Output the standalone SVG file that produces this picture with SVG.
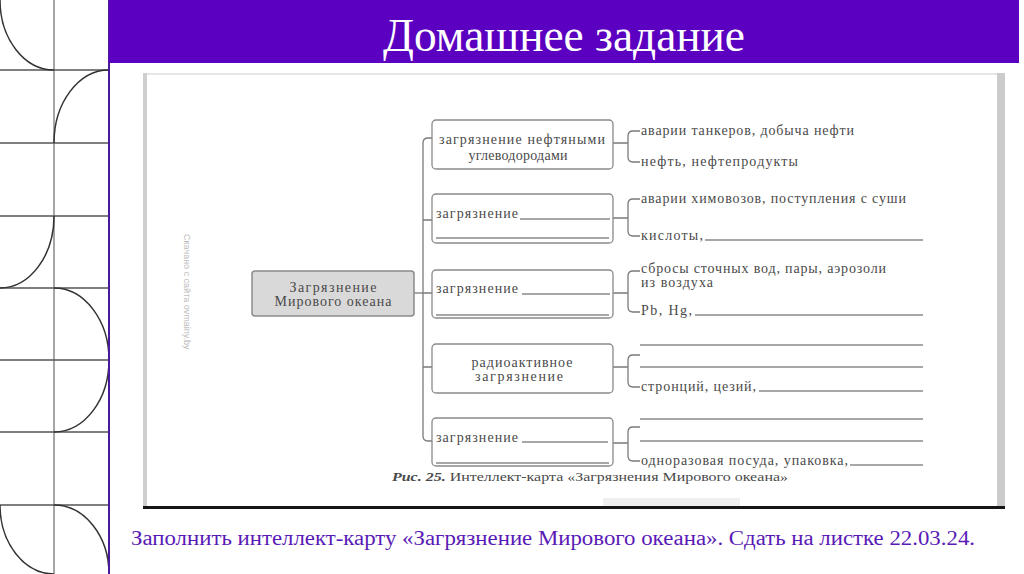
<svg xmlns="http://www.w3.org/2000/svg" width="1024" height="574" viewBox="0 0 1024 574">
<style>
.grid{stroke:#555;stroke-width:1.5;fill:none}
.gv{stroke:#888;stroke-width:1.5;fill:none}
.arc{stroke:#333;stroke-width:1.5;fill:none}
.box{fill:#fff;stroke:#8a8a8a;stroke-width:1.3}
.cbox{fill:#d9d9d9;stroke:#8a8a8a;stroke-width:1.5}
.con{stroke:#7a7a7a;stroke-width:1.3;fill:none}
.ul{stroke:#8a8a8a;stroke-width:1.3}
.serif{font-family:'Liberation Serif','Times New Roman','DejaVu Serif',serif}
.t{font-family:'Liberation Serif','Times New Roman','DejaVu Serif',serif;font-size:14px;fill:#4a4a4a}
.tc{font-family:'Liberation Serif','Times New Roman','DejaVu Serif',serif;font-size:14px;fill:#4a4a4a;text-anchor:middle}
</style>
<rect width="1024" height="574" fill="#fff"/>
<g id="pattern">
<line class="gv" x1="54" y1="0" x2="54" y2="574"/>
<line class="grid" x1="0" y1="70" x2="109" y2="70"/>
<line class="grid" x1="0" y1="143" x2="109" y2="143"/>
<line class="grid" x1="0" y1="216" x2="109" y2="216"/>
<line class="grid" x1="0" y1="288" x2="109" y2="288"/>
<line class="grid" x1="0" y1="360" x2="109" y2="360"/>
<line class="grid" x1="0" y1="432" x2="109" y2="432"/>
<line class="grid" x1="0" y1="505" x2="109" y2="505"/>
<path class="arc" d="M0,0 A54,70 0 0 0 54,70"/>
<path class="arc" d="M54,143 A55,73 0 0 1 109,70"/>
<path class="arc" d="M54,216 A54,72 0 0 1 0,288"/>
<path class="arc" d="M54,288 A55,72 0 0 1 109,360 A55,72 0 0 1 54,432"/>
<path class="arc" d="M0,505 A54,69 0 0 0 54,574"/>
<path class="arc" d="M54,505 A55,69 0 0 1 109,574"/>
<line x1="109" y1="0" x2="109" y2="574" stroke="#4b1a9a" stroke-width="2"/>
</g>
<g id="header">
<rect x="109" y="0" width="910" height="63" fill="#5b00c0"/>
<text class="serif" x="564" y="51" text-anchor="middle" font-size="46" fill="#fff" textLength="362" lengthAdjust="spacingAndGlyphs">Домашнее задание</text>
</g>
<g id="frame">
<rect x="143" y="73" width="862" height="435" fill="#fff"/>
<rect x="143" y="73" width="862" height="2" fill="#e6e6e6"/>
<rect x="143" y="73" width="4" height="435" fill="#cfcfcf"/>
<rect x="997" y="73" width="8" height="435" fill="#cbcbcb"/>
<rect x="603" y="498" width="137" height="8" fill="#efefef"/>
<rect x="143" y="506" width="862" height="3" fill="#151515"/>
<text transform="translate(184,234) rotate(90)" font-family="'Liberation Sans', 'DejaVu Sans', sans-serif" font-size="9" fill="#bdbdbd">Скачано с сайта ovmainy.by</text>
</g>
<g id="connectors">
<path class="con" d="M414,293 H423"/>
<path class="con" d="M432,138 H428 Q423,138 423,143 V436 Q423,441 428,441 H432"/>
<path class="con" d="M423,220 H432 M423,293 H432 M423,367 H432"/>
<path class="con" d="M613,143 H628 M640,131 H633 Q628,131 628,136 V157 Q628,162 633,162 H640"/>
<path class="con" d="M613,218 H628 M640,199 H633 Q628,199 628,204 V231 Q628,236 633,236 H640"/>
<path class="con" d="M613,293 H628 M640,271 H633 Q628,271 628,276 V307 Q628,312 633,312 H640"/>
<path class="con" d="M613,367 H628 M640,355 H633 Q628,355 628,360 V382 Q628,387 633,387 H640"/>
<path class="con" d="M613,443 H628 M640,427 H633 Q628,427 628,432 V456 Q628,461 633,461 H640"/>
</g>
<g id="center">
<rect class="cbox" x="252" y="271" width="162" height="45" rx="3"/>
<text class="tc" x="333" y="292" textLength="87">Загрязнение</text>
<text class="tc" x="333" y="306" textLength="117">Мирового океана</text>
</g>
<g id="b1">
<rect class="box" x="432" y="120" width="181" height="49" rx="4"/>
<text class="tc" x="522" y="144" textLength="166">загрязнение нефтяными</text>
<text class="tc" x="518" y="160" textLength="99">углеводородами</text>
<text class="t" x="641" y="135" textLength="213">аварии танкеров, добыча нефти</text>
<text class="t" x="641" y="166" textLength="157">нефть, нефтепродукты</text>
</g>
<g id="b2">
<rect class="box" x="432" y="194" width="181" height="49" rx="4"/>
<text class="t" x="436" y="218" textLength="82">загрязнение</text>
<line class="ul" x1="520" y1="219" x2="610" y2="219"/>
<line class="ul" x1="436" y1="238" x2="609" y2="238"/>
<text class="t" x="641" y="203" textLength="265">аварии химовозов, поступления с суши</text>
<text class="t" x="641" y="240" textLength="62">кислоты,</text>
<line class="ul" x1="705" y1="240" x2="923" y2="240"/>
</g>
<g id="b3">
<rect class="box" x="432" y="270" width="181" height="48" rx="4"/>
<text class="t" x="436" y="293" textLength="82">загрязнение</text>
<line class="ul" x1="522" y1="294" x2="610" y2="294"/>
<line class="ul" x1="436" y1="315" x2="609" y2="315"/>
<text class="t" x="641" y="273" textLength="245">сбросы сточных вод, пары, аэрозоли</text>
<text class="t" x="641" y="287" textLength="72">из воздуха</text>
<text class="t" x="641" y="315" textLength="51">Pb, Hg,</text>
<line class="ul" x1="695" y1="315" x2="923" y2="315"/>
</g>
<g id="b4">
<rect class="box" x="432" y="344" width="181" height="49" rx="4"/>
<text class="tc" x="522" y="367" textLength="101">радиоактивное</text>
<text class="tc" x="519" y="381" textLength="88">загрязнение</text>
<line class="ul" x1="640" y1="345" x2="923" y2="345"/>
<line class="ul" x1="640" y1="367" x2="923" y2="367"/>
<text class="t" x="641" y="391" textLength="115">стронций, цезий,</text>
<line class="ul" x1="759" y1="391" x2="923" y2="391"/>
</g>
<g id="b5">
<rect class="box" x="432" y="418" width="181" height="48" rx="4"/>
<text class="t" x="436" y="442" textLength="82">загрязнение</text>
<line class="ul" x1="522" y1="442" x2="608" y2="442"/>
<line class="ul" x1="436" y1="463" x2="609" y2="463"/>
<line class="ul" x1="640" y1="419" x2="923" y2="419"/>
<line class="ul" x1="640" y1="441" x2="923" y2="441"/>
<text class="t" x="641" y="465" textLength="207">одноразовая посуда, упаковка,</text>
<line class="ul" x1="850" y1="465" x2="923" y2="465"/>
</g>
<g id="caption">
<text class="serif" x="392" y="481" font-size="12.5" fill="#4a4a4a" textLength="396" lengthAdjust="spacingAndGlyphs"><tspan font-style="italic" font-weight="bold">Рис. 25.</tspan> Интеллект-карта «Загрязнения Мирового океана»</text>
</g>
<g id="instruction">
<text class="serif" x="131" y="545" font-size="20" fill="#5a1ab5" textLength="844" lengthAdjust="spacingAndGlyphs">Заполнить интеллект-карту «Загрязнение Мирового океана». Сдать на листке 22.03.24.</text>
</g>
</svg>
